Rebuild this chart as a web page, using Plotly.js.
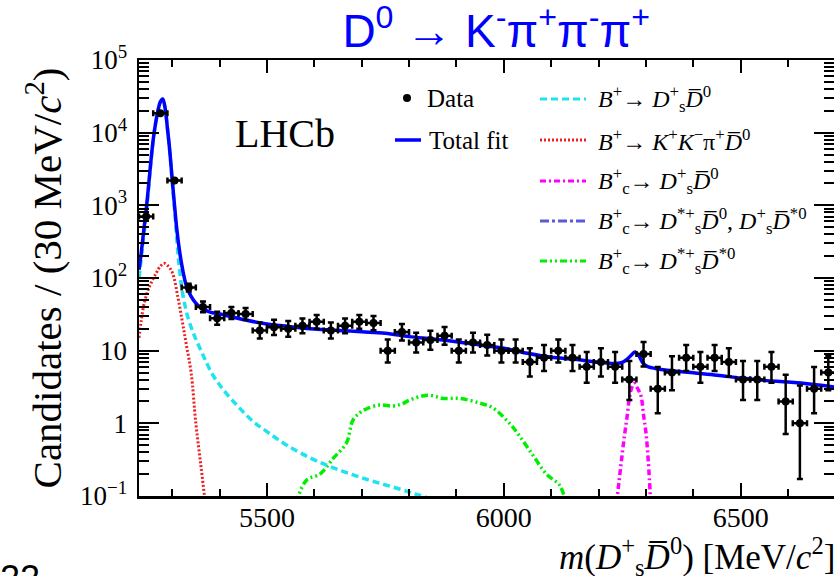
<!DOCTYPE html>
<html><head><meta charset="utf-8">
<script src="https://cdn.plot.ly/plotly-3.0.1.min.js"></script>
<style>html,body{margin:0;padding:0;background:#fff;overflow:hidden;}</style>
</head><body>
<div id="chart" style="width:834px;height:576px;"></div>
<script>
// ---- data ----
const binCenters = [5245,5275,5305,5335,5365,5395,5425,5455,5485,5515,5545,5575,5605,5635,5665,5695,5725,5755,5785,5815,5845,5875,5905,5935,5965,5995,6025,6055,6085,6115,6145,6175,6205,6235,6265,6295,6325,6355,6385,6415,6445,6475,6505,6535,6565,6595,6625,6655,6685];
const counts = [700,18500,2200,74,40,28,33,32,19,21,20,22,25,19,22,25,24,10,18,13,14,16,10,13,12,10,10,7,8,10,8,6,7,6,4,9,3,5,8,6,8,7,4,4,6,2,1,3,5];

const totalX = [5230,5235,5240,5245,5250,5255,5260,5265,5270,5275,5280,5285,5290,5295,5300,5305,5310,5315,5320,5325,5330,5340,5350,5360,5380,5400,5450,5500,5550,5600,5650,5700,5750,5800,5850,5900,5950,6000,6050,6100,6150,6200,6240,6250,6260,6270,6277,6285,6295,6305,6320,6350,6400,6450,6500,6550,6600,6650,6700];
const totalY = [130,230,450,850,1800,4000,8000,13500,20000,26500,29000,22000,11500,5600,2300,1000,458,250,155,105,78,56,45,39,34,32,26.8,23.3,21.4,19.9,19.0,18.2,17.4,15.6,14.5,13.3,12.0,10.8,9.2,8.1,7.6,6.9,6.7,6.9,7.6,8.8,9.6,8.5,6.6,6.0,5.7,5.35,4.95,4.6,4.2,3.9,3.7,3.45,3.15];

const cyanX = [5230,5235,5240,5245,5250,5255,5260,5265,5270,5275,5280,5285,5290,5295,5300,5305,5310,5315,5322,5333,5347,5361,5370,5385,5400,5415,5440,5471,5500,5542,5612,5710,5780,5816,5851];
const cyanY = [100,190,380,700,1650,3800,7800,13300,19800,26300,28800,21800,11300,5400,2150,880,330,140,62,29,16,10,7.4,4.7,3.4,2.55,1.68,1.06,0.77,0.5,0.29,0.17,0.125,0.105,0.09];

const redX = [5230,5234,5241,5252,5266,5275,5283,5292,5301,5312,5322,5330,5340,5350,5361,5370];
const redY = [15,24,45,76,116,145,159,145,116,55,24,12,5,1.0,0.25,0.08];

const magX = [6238,6245,6250,6255,6260,6265,6270,6275,6280,6285,6290,6295,6300,6305,6310];
const magY = [0.08,0.2,0.38,0.7,1.2,2.2,3.1,3.56,3.2,2.8,2.33,1.3,0.75,0.3,0.08];

const greenX = [5561,5584,5612,5640,5668,5682,5703,5738,5766,5785,5802,5825,5845,5872,5907,5949,5977,6012,6034,6062,6090,6118,6131];
const greenY = [0.08,0.166,0.2,0.33,0.54,1.12,1.5,1.79,1.73,1.85,2.1,2.35,2.43,2.2,2.2,1.9,1.63,1.0,0.66,0.36,0.2,0.14,0.08];

const yTickVals = [0.1,1,10,100,1000,10000,100000];
const yTickText = ['10<sup>−1</sup>','1','10','10<sup>2</sup>','10<sup>3</sup>','10<sup>4</sup>','10<sup>5</sup>'];
const xTickVals = [5500,6000,6500];

const legendLabels = [
  '<i>B</i><sup>+</sup>→ <i>D</i><sup>+</sup><sub>s</sub><i>D\u0305</i><sup>0</sup>',
  '<i>B</i><sup>+</sup>→ <i>K</i><sup>+</sup><i>K</i><sup>−</sup>π<sup>+</sup><i>D\u0305</i><sup>0</sup>',
  '<i>B</i><sup>+</sup><sub>c</sub>→ <i>D</i><sup>+</sup><sub>s</sub><i>D\u0305</i><sup>0</sup>',
  '<i>B</i><sup>+</sup><sub>c</sub>→ <i>D</i><sup>*+</sup><sub>s</sub><i>D\u0305</i><sup>0</sup>, <i>D</i><sup>+</sup><sub>s</sub><i>D\u0305</i><sup>*0</sup>',
  '<i>B</i><sup>+</sup><sub>c</sub>→ <i>D</i><sup>*+</sup><sub>s</sub><i>D\u0305</i><sup>*0</sup>'
];
const legendColors = ['#1fe3f0','#ee2020','#ff00ff','#5a5ad8','#00ee00'];
const legendDash = ['7px,4px','2px,2px','6px,3px,2px,3px','9px,3px,3px,3px','7px,3px,2px,3px,2px,3px'];

// ---- geometry helpers ----
const L=139, R=834, T=60, B=496;
const PX = p => (p-L)/(R-L);
const PY = p => (B-p)/(B-T);

// Poisson (Gehrels) intervals for error bars
const errUp = counts.map(n => Math.sqrt(n+0.75)+1);
const errDn = counts.map(n => n - n*Math.pow(1-1/(9*n)-1/(3*Math.sqrt(n)),3));

const serif = 'Liberation Serif, Times New Roman, serif';

const traces = [
  {x:greenX, y:greenY, mode:'lines', line:{color:legendColors[4], width:3.5, dash:legendDash[4], shape:'spline'}, hoverinfo:'skip'},
  {x:magX, y:magY, mode:'lines', line:{color:legendColors[2], width:3.5, dash:legendDash[2], shape:'spline'}, hoverinfo:'skip'},
  {x:cyanX, y:cyanY, mode:'lines', line:{color:legendColors[0], width:3.5, dash:legendDash[0], shape:'spline'}, hoverinfo:'skip'},
  {x:redX, y:redY, mode:'lines', line:{color:legendColors[1], width:3, dash:legendDash[1], shape:'spline'}, hoverinfo:'skip'},
  {x:totalX, y:totalY, mode:'lines', line:{color:'#0000ff', width:3.5, shape:'spline'}, hoverinfo:'skip'},
  {x:binCenters, y:counts, mode:'markers', marker:{color:'#000', size:8},
   error_y:{type:'data', symmetric:false, array:errUp, arrayminus:errDn, color:'#000', thickness:2.5, width:3},
   error_x:{type:'constant', value:15, color:'#000', thickness:2.5, width:3}}
];

const annotations = [];
const shapes = [];
// column 1 legend
shapes.push({type:'circle', xref:'paper', yref:'paper', x0:PX(403), x1:PX(411), y0:PY(102), y1:PY(94), fillcolor:'#000', line:{width:0}});
annotations.push({xref:'paper', yref:'paper', x:PX(425), y:PY(99), xanchor:'left', yanchor:'middle', showarrow:false, text:'Data', font:{family:serif, size:25, color:'#000'}});
shapes.push({type:'line', xref:'paper', yref:'paper', x0:PX(395), x1:PX(421), y0:PY(140), y1:PY(140), line:{color:'#0000ff', width:3.5}});
annotations.push({xref:'paper', yref:'paper', x:PX(427), y:PY(140), xanchor:'left', yanchor:'middle', showarrow:false, text:'Total fit', font:{family:serif, size:25, color:'#000'}});
// column 2 legend
const rowY = [99,140,181,221,261];
legendLabels.forEach((lab,i) => {
  shapes.push({type:'line', xref:'paper', yref:'paper', x0:PX(540), x1:PX(586), y0:PY(rowY[i]), y1:PY(rowY[i]), line:{color:legendColors[i], width:3, dash:legendDash[i]}});
  annotations.push({xref:'paper', yref:'paper', x:PX(596), y:PY(rowY[i]), xanchor:'left', yanchor:'middle', showarrow:false, text:lab, font:{family:serif, size:24, color:'#000'}});
});
// LHCb label
annotations.push({xref:'paper', yref:'paper', x:PX(233), y:PY(133), xanchor:'left', yanchor:'middle', showarrow:false, text:'LHCb', font:{family:serif, size:40, color:'#000'}});
// x axis title (right aligned, ROOT style)
annotations.push({xref:'paper', yref:'paper', x:PX(837), y:PY(556), xanchor:'right', yanchor:'middle', showarrow:false,
  text:'<i>m</i>(<i>D</i><sup>+</sup><sub>s</sub><i>D\u0305</i><sup>0</sup>) [MeV/<i>c</i><sup>2</sup>]', font:{family:serif, size:35, color:'#000'}});
// partially cropped text at bottom-left
annotations.push({xref:'paper', yref:'paper', x:PX(-2), y:PY(556), xanchor:'left', yanchor:'top', showarrow:false, text:'22', font:{family:'Liberation Sans, Arial, sans-serif', size:36, color:'#000'}});

const minorY = [];
for (let e=-1; e<5; e++) for (let k=2; k<10; k++) minorY.push(k*Math.pow(10,e));

const layout = {
  width:834, height:576,
  margin:{l:L, r:834-R, t:T, b:576-B},
  paper_bgcolor:'#fff', plot_bgcolor:'#fff',
  showlegend:false,
  title:{text:'D<sup>0</sup> → K<sup>-</sup>π<sup>+</sup>π<sup>-</sup>π<sup>+</sup>', x:0.595, xanchor:'center', y:1-31/576, yanchor:'middle', yref:'container',
    font:{family:'Liberation Sans, Arial, sans-serif', size:46, color:'#0000ff'}},
  xaxis:{range:[5230,6697], showgrid:false, zeroline:false, showline:true, linecolor:'#000', linewidth:2.5, mirror:'allticks',
    ticks:'inside', ticklen:13, tickwidth:2, tickcolor:'#000', tickmode:'array', tickvals:xTickVals, ticktext:xTickVals.map(String),
    ticklabelstandoff:-5,
    minor:{ticks:'inside', ticklen:7, tickwidth:2, tickcolor:'#000', dtick:100, tick0:5200},
    tickfont:{family:serif, size:28, color:'#000'}},
  yaxis:{type:'log', range:[-1,5], showgrid:false, zeroline:false, showline:true, linecolor:'#000', linewidth:2.5, mirror:'allticks',
    ticks:'inside', ticklen:20, tickwidth:2, tickcolor:'#000', tickmode:'array', tickvals:yTickVals, ticktext:yTickText,
    ticklabelstandoff:4,
    minor:{ticks:'inside', ticklen:10, tickwidth:2, tickcolor:'#000', tickmode:'array', tickvals:minorY},
    tickfont:{family:serif, size:27, color:'#000'},
    title:{text:'Candidates / (30 MeV/<i>c</i><sup>2</sup>)', font:{family:serif, size:41, color:'#000'}, standoff:6}},
  annotations:annotations,
  shapes:shapes
};

Plotly.newPlot('chart', traces, layout, {staticPlot:true, displayModeBar:false});
</script>
</body></html>
